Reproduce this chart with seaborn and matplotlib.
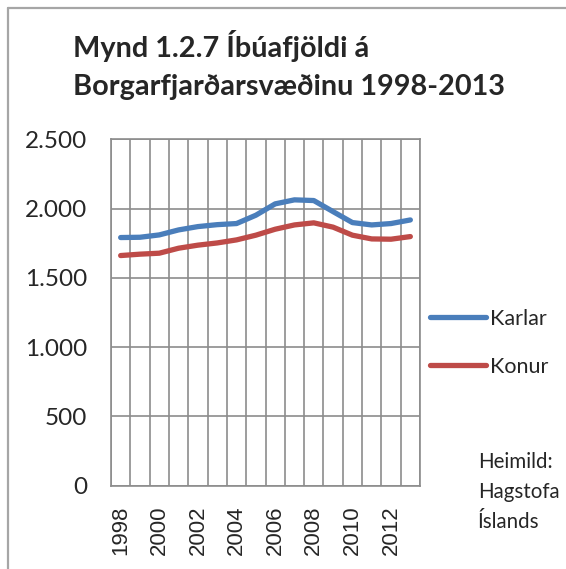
import numpy as np
import pandas as pd
import matplotlib
matplotlib.use("Agg")
import matplotlib.pyplot as plt
from matplotlib.ticker import FuncFormatter, MultipleLocator
from matplotlib.lines import Line2D
import seaborn as sns

# gögn lesin af myndinni
years = list(range(1998, 2014))
karlar = [1791, 1793, 1810, 1846, 1870, 1884, 1892, 1952, 2034, 2063, 2058, 1978, 1899, 1882, 1892, 1918]
konur = [1661, 1671, 1678, 1714, 1736, 1752, 1774, 1808, 1851, 1882, 1897, 1866, 1808, 1781, 1779, 1798]
series_names = ["Karlar", "Konur"]
colors = ["#4A7EBB", "#BE4B48"]
title = "Mynd 1.2.7 Íbúafjöldi á\nBorgarfjarðarsvæðinu 1998-2013"
source = "Heimild:\nHagstofa\nÍslands"

df = pd.DataFrame({"Ár": years * 2,
                   "Fjöldi": karlar + konur,
                   "Kyn": [series_names[0]] * len(years) + [series_names[1]] * len(years)})

sns.set_theme(style="white")
plt.rcParams["font.family"] = ["Lato", "DejaVu Sans"]

fig = plt.figure(figsize=(5.66, 5.69), dpi=100)
ax = fig.add_axes([111 / 566, 1 - 485.7 / 569, (420 - 111) / 566, (485.7 - 139.3) / 569])

sns.lineplot(data=df, x="Ár", y="Fjöldi", hue="Kyn", palette=colors, linewidth=3.8,
             solid_capstyle="round", ax=ax, legend=False)

grid_c = "#8C8C8C"
ax.set_xlim(years[0] - 0.5, years[-1] + 0.5)
ax.set_ylim(0, 2500)
ax.yaxis.set_major_locator(MultipleLocator(500))
ax.yaxis.set_major_formatter(FuncFormatter(lambda v, p: f"{int(v):,}".replace(",", ".")))
ax.set_xticks(years[::2])
ax.set_xticklabels([str(y) for y in years[::2]], rotation=90, family="Liberation Sans", fontsize=16)
ax.set_xticks([y - 0.5 for y in years] + [years[-1] + 0.5], minor=True)
ax.tick_params(axis="x", which="major", length=0, pad=14)
ax.tick_params(axis="x", which="minor", length=7, width=1.2, color=grid_c, direction="out")
ax.tick_params(axis="y", length=7, width=1.2, color=grid_c, direction="out", labelsize=17.5, pad=10)
ax.grid(True, axis="x", which="minor", color=grid_c, linewidth=1.2)
ax.grid(True, axis="y", which="major", color=grid_c, linewidth=1.2)
for s in ax.spines.values():
    s.set_color(grid_c)
    s.set_linewidth(1.2)
ax.set_xlabel("")
ax.set_ylabel("")

fig.text(73 / 566, 1 - 30 / 569, title, fontsize=20.8, fontweight="bold", va="top", ha="left",
         linespacing=1.58)

handles = [Line2D([], [], color=c, linewidth=3.8, solid_capstyle="round") for c in colors]
fig.legend(handles, series_names, loc="upper left", bbox_to_anchor=(430 / 566, 1 - 309 / 569),
           frameon=False, fontsize=15.5, handlelength=2.6, handletextpad=0.2, labelspacing=1.3,
           borderaxespad=0, borderpad=0)

fig.text(478 / 566, 1 - 452 / 569, source, fontsize=14.8, va="top", ha="left", linespacing=1.62)

# rammi
bc = "#A6A6A6"
fig.add_artist(Line2D([8 / 566, 8 / 566], [0, 1 - 7.5 / 569], color=bc, linewidth=1.6,
                      transform=fig.transFigure))
fig.add_artist(Line2D([8 / 566, 1], [1 - 7.5 / 569, 1 - 7.5 / 569], color=bc, linewidth=1.6,
                      transform=fig.transFigure))

fig.savefig("out.png", dpi=100)
